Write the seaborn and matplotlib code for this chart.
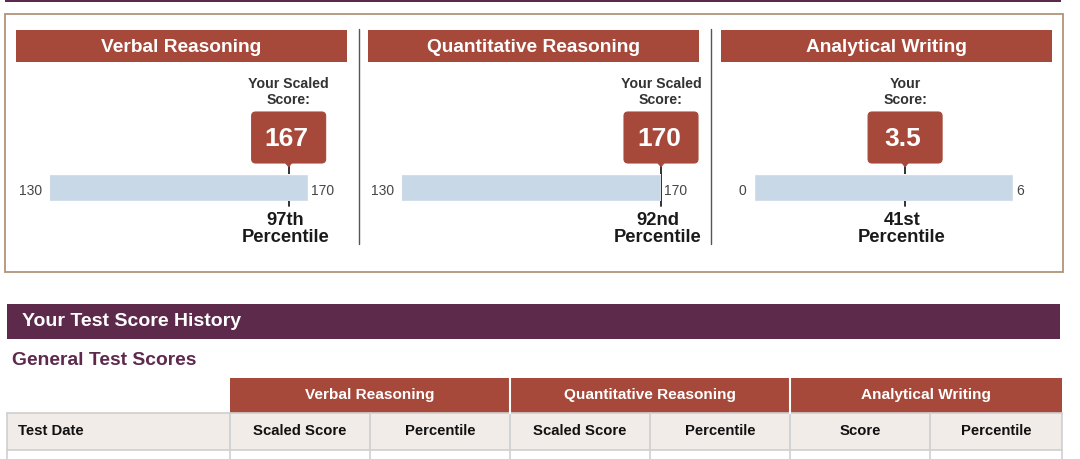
import matplotlib
matplotlib.use("Agg")
import matplotlib.pyplot as plt
from matplotlib.patches import Rectangle, FancyBboxPatch, Polygon
import seaborn as sns

# ---- data ----
sections = ["Verbal Reasoning", "Quantitative Reasoning", "Analytical Writing"]
scores = [167, 170, 3.5]
score_labels = ["167", "170", "3.5"]
range_min = [130, 130, 0]
range_max = [170, 170, 6]
percentiles = ["97th", "92nd", "41st"]
score_captions = ["Your Scaled\nScore:", "Your Scaled\nScore:", "Your\nScore:"]
history_title = "Your Test Score History"
history_subtitle = "General Test Scores"
history_groups = ["Verbal Reasoning", "Quantitative Reasoning", "Analytical Writing"]
history_columns = ["Test Date", "Scaled Score", "Percentile", "Scaled Score",
                   "Percentile", "Score", "Percentile"]

# ---- style ----
RUST = "#a6493a"
PURPLE = "#5d2a4c"
GAUGE = "#c8d8e7"
BEIGE = "#f2ece9"
TAN = "#b09478"
GRID = "#cfcfcf"

sns.set_theme(style="white")
plt.rcParams["font.family"] = ["Liberation Sans", "DejaVu Sans"]

W, H = 1080, 460
fig = plt.figure(figsize=(W / 100, H / 100), dpi=100)
ax = fig.add_axes([0, 0, 1, 1])
ax.set_xlim(0, W)
ax.set_ylim(H, 0)
ax.axis("off")


def fig_rect(x0, y0, x1, y1):
    return [x0 / W, 1 - y1 / H, (x1 - x0) / W, (y1 - y0) / H]


# top purple strip and outer box
ax.add_patch(Rectangle((5, 0), 1056, 2.5, color=PURPLE, lw=0))
ax.add_patch(Rectangle((5, 15), 1058, 258, fill=False, ec=TAN, lw=1.3))

header_x = [(16, 347), (368, 699), (721, 1052)]
gauge_x = [(50, 308), (402, 661), (754, 1013)]
for sx in (358.5, 710.5):
    ax.plot([sx, sx], [30, 245], color="#555555", lw=1)

for i, name in enumerate(sections):
    hx0, hx1 = header_x[i]
    ax.add_patch(Rectangle((hx0, 31), hx1 - hx0, 32, color=RUST, lw=0))
    ax.text((hx0 + hx1) / 2, 47, name, ha="center", va="center",
            color="white", fontsize=13.8, fontweight="bold")

    gx0, gx1 = gauge_x[i]
    g = fig.add_axes(fig_rect(gx0, 175, gx1, 202))
    sns.barplot(x=[range_max[i]], y=[""], orient="h", color=GAUGE,
                width=1, saturation=1, ax=g)
    g.set_xlim(range_min[i], range_max[i])
    g.axis("off")

    # pixel position of the score on the gauge scale
    disp = g.transData.transform((scores[i], 0))
    px = ax.transData.inverted().transform(disp)[0]

    ax.text(gx0 - 8, 191, f"{range_min[i]}", ha="right", va="center",
            fontsize=10, color="#444444")
    ax.text(gx1 + 3, 191, f"{range_max[i]}", ha="left", va="center",
            fontsize=10, color="#444444")

    # marker line
    ax.plot([px, px], [164, 207], color="#222222", lw=1.3, zorder=5)
    # score box with pointer
    bw, by0, by1 = 74, 113, 164
    ax.add_patch(FancyBboxPatch((px - bw / 2, by0), bw, by1 - by0,
                                boxstyle="round,pad=0,rounding_size=4",
                                fc=RUST, ec=RUST, lw=0.8, zorder=6))
    ax.add_patch(Polygon([[px - 4, by1 - 1], [px + 4, by1 - 1], [px, by1 + 4]],
                         closed=True, fc=RUST, ec=RUST, lw=0.5, zorder=6))
    ax.text(px - 2, 139, score_labels[i], ha="center", va="center",
            color="white", fontsize=19, fontweight="bold", zorder=7)
    ax.text(px, 92, score_captions[i], ha="center", va="center",
            color="#333333", fontsize=10.2, fontweight="bold", linespacing=1.1)
    ax.text(px - 3, 229.5, f"{percentiles[i]}\nPercentile", ha="center",
            va="center", color="#1a1a1a", fontsize=13.2, fontweight="bold",
            linespacing=1.0)

# ---- history section ----
ax.add_patch(Rectangle((7, 305), 1053, 35, color=PURPLE, lw=0))
ax.text(22, 322, history_title, ha="left", va="center", color="white",
        fontsize=14, fontweight="bold")
ax.text(12, 361, history_subtitle, ha="left", va="center", color=PURPLE,
        fontsize=13.9, fontweight="bold")

col_x = [7, 230, 370, 510, 650, 790, 930, 1062]
# group header row
for k, grp in enumerate(history_groups):
    x0, x1 = col_x[1 + 2 * k], col_x[3 + 2 * k]
    ax.add_patch(Rectangle((x0, 379), x1 - x0, 35, color=RUST, lw=0))
    ax.text((x0 + x1) / 2, 395, grp, ha="center", va="center",
            color="white", fontsize=11.1, fontweight="bold")
for sx in (510, 790):
    ax.plot([sx, sx], [379, 414], color="white", lw=1.5, zorder=3)

# column header row
ax.add_patch(Rectangle((7, 414), 1055, 37, fc=BEIGE, ec="none"))
for j, col in enumerate(history_columns):
    x0, x1 = col_x[j], col_x[j + 1]
    if j == 0:
        ax.text(x0 + 11, 431, col, ha="left", va="center", color="#111111",
                fontsize=10.7, fontweight="bold")
    else:
        ax.text((x0 + x1) / 2, 431, col, ha="center", va="center",
                color="#111111", fontsize=10.7, fontweight="bold")
# grid lines
for yy in (414, 451):
    ax.plot([7, 1062], [yy, yy], color=GRID, lw=1.2, zorder=2)
for sx in col_x:
    ax.plot([sx, sx], [414, 460], color=GRID, lw=1.2, zorder=2)

fig.savefig("out.png", dpi=100)
